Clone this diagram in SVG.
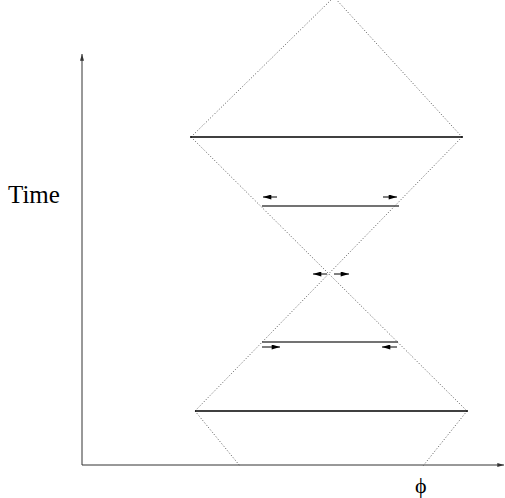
<svg xmlns="http://www.w3.org/2000/svg" width="505" height="498" viewBox="0 0 505 498">
<style>
.dot{stroke:#555;stroke-width:1;stroke-dasharray:1 2;fill:none}
.bar{stroke:#000;stroke-width:1.4;fill:none}
.mid{stroke:#444;stroke-width:1.6;fill:none}
.axis{stroke:#333;stroke-width:1;fill:none}
.arr{stroke:#000;stroke-width:1;fill:none}
.lbl{font-family:"Liberation Serif","Times New Roman",serif;fill:#000}
</style>
<defs>
<marker id="ah" viewBox="0 0 10 6" refX="10" refY="3" markerWidth="9" markerHeight="5" markerUnits="userSpaceOnUse" orient="auto">
<path d="M0,0 L10,3 L0,6 Z" fill="#000"/>
</marker>
<marker id="axh" viewBox="0 0 10 6" refX="10" refY="3" markerWidth="8" markerHeight="4" markerUnits="userSpaceOnUse" orient="auto">
<path d="M0,0 L10,3 L0,6 Z" fill="#333"/>
</marker>
</defs>
<rect width="505" height="498" fill="#fff"/>
<g id="axes">
<line class="axis" x1="82" y1="465" x2="82" y2="54" marker-end="url(#axh)"/>
<line class="axis" x1="82" y1="465" x2="504" y2="465" marker-end="url(#axh)"/>
</g>
<g id="cones">
<line class="dot" x1="191" y1="137" x2="334" y2="-3"/>
<line class="dot" x1="462" y1="137" x2="334" y2="-3"/>
<line class="dot" x1="191" y1="137" x2="467" y2="411"/>
<line class="dot" x1="462" y1="137" x2="195" y2="411"/>
<line class="dot" x1="195" y1="411" x2="240" y2="466"/>
<line class="dot" x1="467" y1="411" x2="423" y2="466"/>
</g>
<g id="slices">
<line class="bar" x1="190" y1="137" x2="463" y2="137"/>
<line class="mid" x1="262" y1="206" x2="399" y2="206"/>
<line class="mid" x1="262" y1="342" x2="398" y2="342"/>
<line class="bar" x1="195" y1="411" x2="468" y2="411"/>
</g>
<g id="arrows">
<line class="arr" x1="277" y1="197" x2="263" y2="197" marker-end="url(#ah)"/>
<line class="arr" x1="383" y1="197" x2="397" y2="197" marker-end="url(#ah)"/>
<line class="arr" x1="327" y1="274" x2="313" y2="274" marker-end="url(#ah)"/>
<line class="arr" x1="334" y1="274" x2="349" y2="274" marker-end="url(#ah)"/>
<line class="arr" x1="262" y1="347" x2="280" y2="347" marker-end="url(#ah)"/>
<line class="arr" x1="397" y1="347" x2="382" y2="347" marker-end="url(#ah)"/>
</g>
<text class="lbl" x="8" y="203" font-size="25">Time</text>
<text class="lbl" x="415" y="493" font-size="22">ϕ</text>
</svg>
